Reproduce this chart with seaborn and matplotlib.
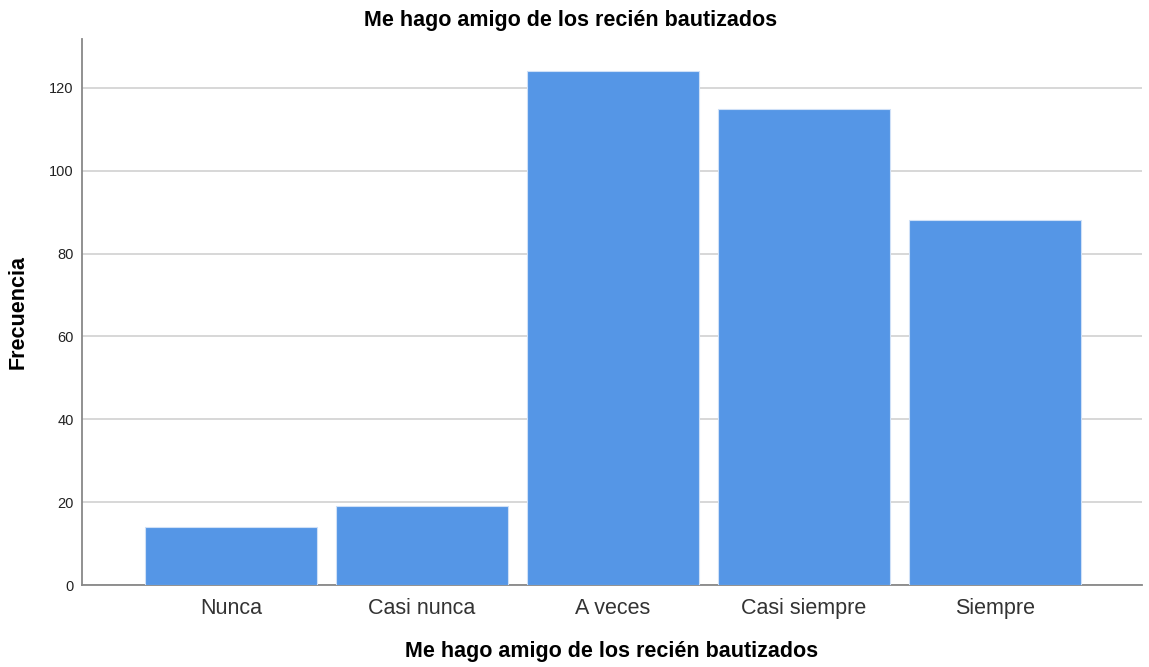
import matplotlib
matplotlib.use("Agg")
import matplotlib.pyplot as plt
import seaborn as sns
import pandas as pd

# data
categories = ["Nunca", "Casi nunca", "A veces", "Casi siempre", "Siempre"]
frecuencia = [14, 19, 124, 115, 88]
y_ticks = [0, 20, 40, 60, 80, 100, 120]

TITLE = "Me hago amigo de los recién bautizados"
BAR_COLOR = "#5596e6"

df = pd.DataFrame({"categoria": categories, "frecuencia": frecuencia})

sns.set_style("white")
plt.rcParams["font.family"] = ["Liberation Sans", "DejaVu Sans"]

fig = plt.figure(figsize=(11.49, 6.67), dpi=100)
ax = fig.add_axes([0.0714, 0.1229, 0.9225, 0.8186])

sns.barplot(data=df, x="categoria", y="frecuencia", color=BAR_COLOR,
            width=0.9, edgecolor="#cfe0f7", linewidth=0.8, saturation=1,
            ax=ax, zorder=3)

ax.set_xlim(-0.78, 4.77)
ax.set_ylim(0, 131.8)
ax.set_yticks(y_ticks)
ax.yaxis.grid(True, color="#d4d4d4", linewidth=1.3, zorder=0)
ax.set_axisbelow(True)

for side in ["top", "right"]:
    ax.spines[side].set_visible(False)
for side in ["left", "bottom"]:
    ax.spines[side].set_color("#888888")
    ax.spines[side].set_linewidth(1.3)

ax.tick_params(axis="x", length=0, labelsize=15.5, colors="#333333", pad=9)
ax.tick_params(axis="y", length=0, labelsize=10.5, colors="#222222", pad=6)

# title is centred on the figure, not on the axes
fig.suptitle(TITLE, x=0.497, y=0.97, fontsize=15.5, fontweight="bold",
             color="black", va="center")
ax.set_xlabel(TITLE, fontsize=15.5, fontweight="bold", color="black", labelpad=16)
ax.set_ylabel("Frecuencia", fontsize=15.5, fontweight="bold", color="black")
ax.yaxis.set_label_coords(-0.05, 0.5)

fig.savefig("out.png", dpi=100)
